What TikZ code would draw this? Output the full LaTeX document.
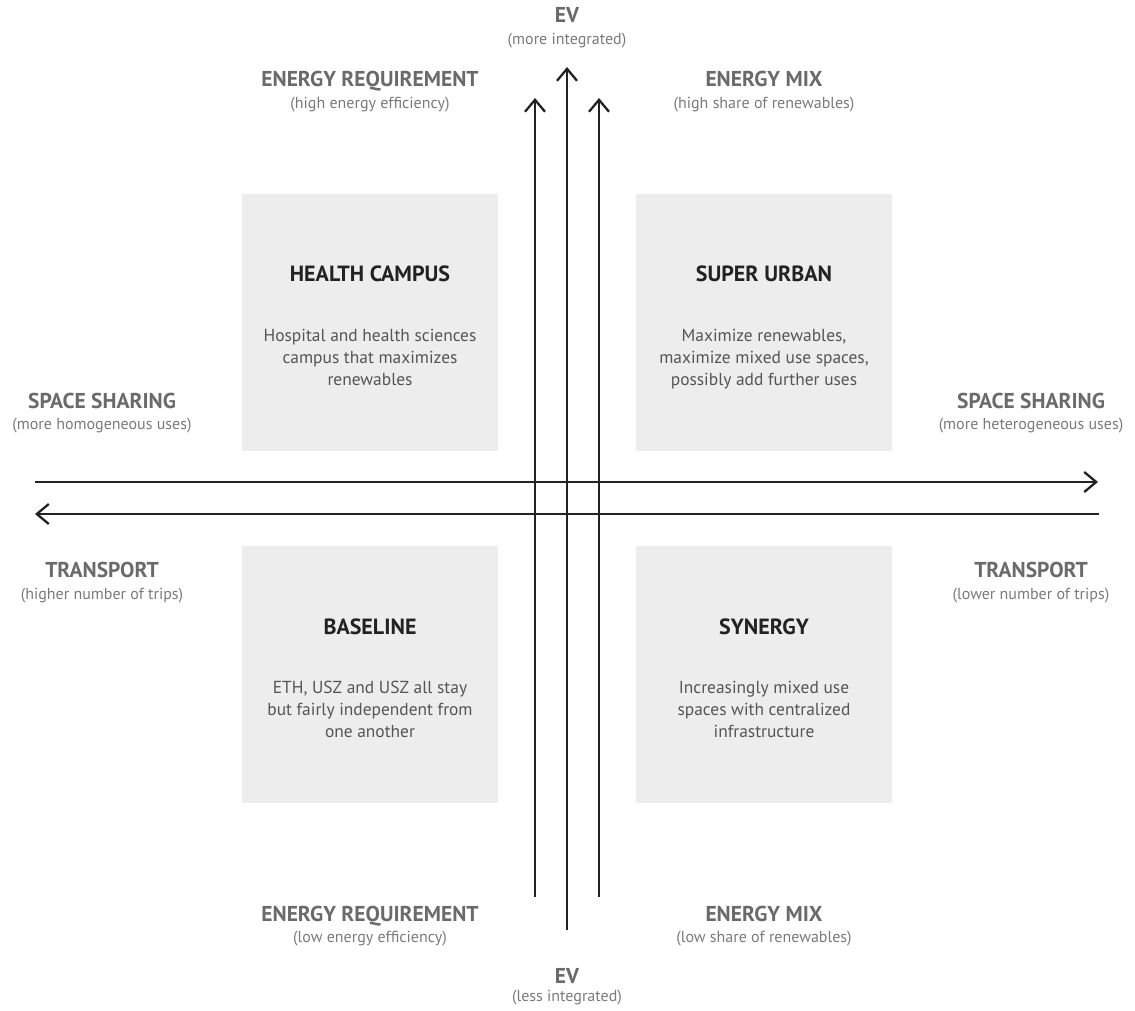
\documentclass[tikz,border=0pt]{standalone}
\usepackage{fontspec}
\setmainfont{PT Sans}
\usetikzlibrary{arrows.meta}
\definecolor{labgray}{HTML}{6A6A6A}
\definecolor{subgray}{HTML}{7A7A7A}
\definecolor{bodygray}{HTML}{555555}
\definecolor{titleblk}{HTML}{222222}
\definecolor{boxfill}{HTML}{EDEDED}
\definecolor{linecol}{HTML}{222222}
\tikzset{
  axlabel/.style={anchor=base, inner sep=0pt, text=labgray, font=\fontsize{21.5}{24}\selectfont\bfseries},
  axsub/.style={anchor=base, inner sep=0pt, text=subgray, font=\fontsize{16}{18}\selectfont},
  quad/.style={fill=boxfill, draw=none, minimum width=256pt, minimum height=257pt, inner sep=0pt},
  qtitle/.style={anchor=base, inner sep=0pt, text=titleblk, font=\fontsize{22}{24}\selectfont\bfseries},
  qbody/.style={anchor=base, inner sep=0pt, text=bodygray, align=center, font=\fontsize{17.4}{22}\selectfont},
  axis/.style={draw=linecol, line width=2.3pt, -{Straight Barb[length=12pt, width=20pt, line width=2.3pt]}},
}
\begin{document}
\begin{tikzpicture}[x=1pt, y=-1pt]
\useasboundingbox (0,0) rectangle (1135,1011);
% quadrant boxes
\node[quad] (hc) at (370,322.5) {};
\node[quad] (su) at (764,322.5) {};
\node[quad] (bl) at (370,674) {};
\node[quad] (sy) at (764,674) {};
% box texts (body anchored at the baseline of its last line)
\node[qtitle] (hct) at (370,281) {HEALTH CAMPUS};
\node[qbody] (hcb) at (370,385) {Hospital and health sciences\\campus that maximizes\\renewables};
\node[qtitle] (sut) at (764,281) {SUPER URBAN};
\node[qbody] (sub) at (764,385) {Maximize renewables,\\maximize mixed use spaces,\\possibly add further uses};
\node[qtitle] (blt) at (370,634) {BASELINE};
\node[qbody] (blb) at (370,737) {ETH, USZ and USZ all stay\\but fairly independent from\\one another};
\node[qtitle] (syt) at (764,634) {SYNERGY};
\node[qbody] (syb) at (764,737) {Increasingly mixed use\\spaces with centralized\\infrastructure};
% axis end points
\coordinate (erS) at (535,897); \coordinate (erE) at (535,98);
\coordinate (evS) at (567,930); \coordinate (evE) at (567,67);
\coordinate (emS) at (599,897); \coordinate (emE) at (599,98);
\coordinate (ssS) at (35,482); \coordinate (ssE) at (1098,482);
\coordinate (trS) at (1099,514); \coordinate (trE) at (35,514);
\draw[axis] (erS) -- (erE);
\draw[axis] (evS) -- (evE);
\draw[axis] (emS) -- (emE);
\draw[axis] (ssS) -- (ssE);
\draw[axis] (trS) -- (trE);
% axis labels
\node[axlabel] (evT) at (567,23) {EV};
\node[axsub] (evTs) at (567,45) {(more integrated)};
\node[axlabel] (erT) at (370,87) {ENERGY REQUIREMENT};
\node[axsub] (erTs) at (370,109) {(high energy efficiency)};
\node[axlabel] (emT) at (764,87) {ENERGY MIX};
\node[axsub] (emTs) at (764,109) {(high share of renewables)};
\node[axlabel] (ssL) at (102,408) {SPACE SHARING};
\node[axsub] (ssLs) at (102,429) {(more homogeneous uses)};
\node[axlabel] (ssR) at (1031,408) {SPACE SHARING};
\node[axsub] (ssRs) at (1031,429) {(more heterogeneous uses)};
\node[axlabel] (trL) at (102,577) {TRANSPORT};
\node[axsub] (trLs) at (102,599) {(higher number of trips)};
\node[axlabel] (trR) at (1031,577) {TRANSPORT};
\node[axsub] (trRs) at (1031,599) {(lower number of trips)};
\node[axlabel] (erB) at (370,921) {ENERGY REQUIREMENT};
\node[axsub] (erBs) at (370,942) {(low energy efficiency)};
\node[axlabel] (emB) at (764,921) {ENERGY MIX};
\node[axsub] (emBs) at (764,942) {(low share of renewables)};
\node[axlabel] (evB) at (567,983) {EV};
\node[axsub] (evBs) at (567,1001) {(less integrated)};
\end{tikzpicture}
\end{document}
